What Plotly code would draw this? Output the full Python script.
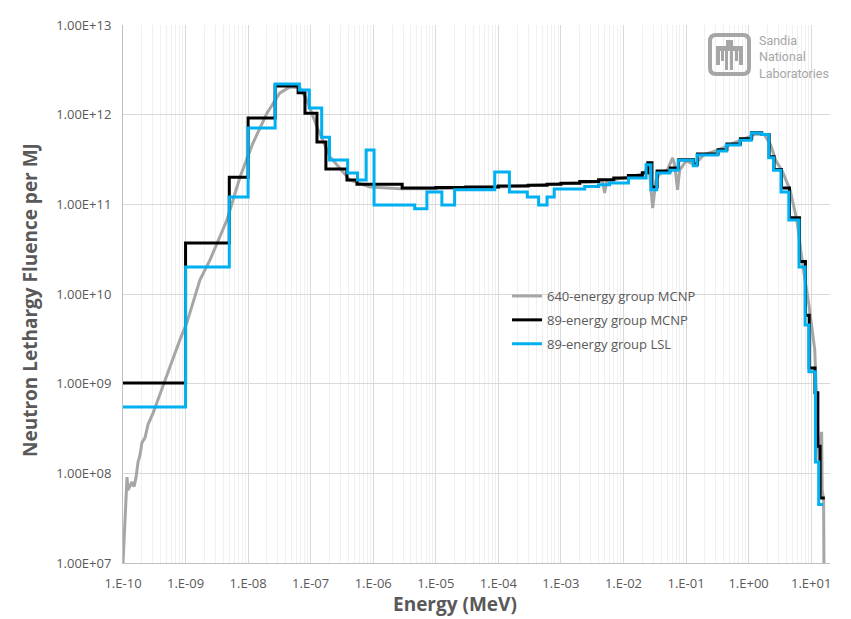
import plotly.graph_objects as go

# ---------------- data ----------------
# 640-energy group MCNP (gray curve): energy (MeV) and lethargy fluence per MJ
gray_E = [1.0e-10, 1.04e-10, 1.08e-10, 1.16e-10, 1.20e-10, 1.29e-10, 1.39e-10, 1.50e-10,
          1.61e-10, 1.74e-10, 1.87e-10, 2.01e-10, 2.25e-10, 2.51e-10, 3.02e-10, 3.62e-10,
          4.35e-10, 5.64e-10, 8.15e-10, 1.05e-9, 1.70e-9, 2.46e-9, 4.59e-9, 7.4e-9,
          1.19e-8, 2.0e-8, 3.22e-8, 4.66e-8, 6.72e-8, 8.7e-8, 1.26e-7, 2.03e-7, 4.23e-7,
          8.8e-7, 2.66e-6, 1.0e-5, 1.0e-4, 1.0e-3, 3.5e-3, 4.6e-3, 5.0e-3, 5.4e-3, 1.0e-2,
          2.18e-2, 2.45e-2, 2.6e-2, 2.93e-2, 3.3e-2, 3.8e-2, 5.0e-2, 6.1e-2, 6.6e-2, 7.3e-2,
          7.9e-2, 1.0e-1, 1.38e-1, 1.9e-1, 3.3e-1, 5.7e-1, 1.0, 1.33, 1.78, 2.25, 2.7, 3.5,
          4.6, 5.9, 7.2, 9.2, 11.4, 12.6, 13.3, 14.7, 15.0, 15.8, 16.0]
gray_F = [1.0e7, 1.8e7, 3.0e7, 9.1e7, 6.5e7, 7.1e7, 8.0e7, 7.1e7,
          8.9e7, 1.34e8, 1.6e8, 2.2e8, 2.5e8, 3.5e8, 4.7e8, 6.6e8,
          9.2e8, 1.54e9, 3.1e9, 4.8e9, 1.44e10, 2.4e10, 6.7e10, 2.0e11,
          4.8e11, 1.04e12, 1.75e12, 2.04e12, 2.0e12, 1.46e12, 7.3e11, 3.4e11, 1.87e11,
          1.56e11, 1.49e11, 1.49e11, 1.56e11, 1.69e11, 1.78e11, 1.82e11, 1.34e11, 1.82e11, 1.98e11,
          2.2e11, 2.76e11, 2.3e11, 9.1e10, 1.87e11, 2.2e11, 2.4e11, 3.3e11, 2.76e11, 1.45e11,
          2.4e11, 3.05e11, 2.76e11, 3.56e11, 4.05e11, 4.83e11, 5.6e11, 6.1e11, 6.0e11, 4.6e11, 3.1e11, 2.3e11,
          1.45e11, 6.7e10, 2.3e10, 7.6e9, 2.4e9, 3.1e8, 1.4e8, 2.9e8, 6.5e7, 5.1e7, 1.0e7]

# 89-energy group MCNP (black steps): bin edges (MeV) and bin values
black_edges = [1e-10, 1e-9, 5e-9, 1e-8, 2.7e-8, 6.3e-8, 8.1e-8, 1.26e-7, 1.75e-7, 3.8e-7,
               5.5e-7, 2.9e-6, 1e-5, 3e-5, 1e-4, 3e-4, 6e-4, 1e-3, 2e-3, 4e-3, 7e-3, 1.2e-2,
               2.0e-2, 2.45e-2, 2.85e-2, 3.45e-2, 5.6e-2, 7.6e-2, 1.32e-1, 1.52e-1, 3.25e-1,
               4.5e-1, 7.4e-1, 1.12, 1.62, 2.13, 2.55, 3.35, 4.5, 6.5, 8.1, 9.3, 11.5, 12.8,
               13.9, 16.5]
black_vals = [1.02e9, 3.7e10, 2.0e11, 9.2e11, 2.09e12, 1.75e12, 1.04e12, 4.97e11, 2.48e11,
              1.87e11, 1.68e11, 1.52e11, 1.54e11, 1.56e11, 1.60e11, 1.63e11, 1.67e11, 1.72e11,
              1.80e11, 1.88e11, 1.97e11, 2.1e11, 2.25e11, 2.9e11, 1.56e11, 2.35e11, 2.55e11,
              3.15e11, 2.8e11, 3.65e11, 4.05e11, 4.7e11, 5.4e11, 6.3e11, 6.0e11, 3.4e11,
              2.45e11, 1.52e11, 7.1e10, 2.3e10, 5.8e9, 1.5e9, 7.9e8, 2.0e8, 5.3e7]

# 89-energy group LSL (blue steps): bin edges (MeV) and bin values
blue_edges = [1e-10, 1e-9, 5e-9, 1e-8, 2.7e-8, 6.6e-8, 9.5e-8, 1.5e-7, 2.0e-7, 3.9e-7,
              5.6e-7, 7.7e-7, 1.03e-6, 4.6e-6, 7.2e-6, 1.25e-5, 2.0e-5, 8.75e-5, 1.5e-4,
              2.9e-4, 4.4e-4, 6.0e-4, 7.8e-4, 2.4e-3, 4e-3, 6e-3, 1.2e-2, 2.3e-2, 2.75e-2,
              3.4e-2, 5.5e-2, 7.5e-2, 1.3e-1, 1.5e-1, 3.2e-1, 4.4e-1, 7.3e-1, 1.1, 1.6, 2.1,
              2.5, 3.3, 4.4, 6.4, 8.0, 9.2, 11.7, 13.2, 15.5]
blue_vals = [5.5e8, 2.0e10, 1.21e11, 7.1e11, 2.2e12, 1.88e12, 1.19e12, 5.6e11, 3.13e11,
             2.24e11, 1.87e11, 4.04e11, 9.85e10, 8.9e10, 1.37e11, 9.85e10, 1.45e11, 2.3e11,
             1.37e11, 1.21e11, 9.85e10, 1.21e11, 1.48e11, 1.58e11, 1.65e11, 1.73e11, 1.97e11,
             2.76e11, 1.45e11, 2.24e11, 2.4e11, 3.1e11, 2.7e11, 3.56e11, 3.94e11, 4.6e11,
             5.2e11, 6.25e11, 6.0e11, 3.3e11, 2.4e11, 1.37e11, 6.7e10, 2.0e10, 4.5e9, 1.36e9,
             1.34e8, 4.5e7]

y_tickvals = [1e7, 1e8, 1e9, 1e10, 1e11, 1e12, 1e13]
y_ticktext = ["1.00E+07", "1.00E+08", "1.00E+09", "1.00E+10", "1.00E+11", "1.00E+12", "1.00E+13"]
x_tickvals = [1e-10, 1e-9, 1e-8, 1e-7, 1e-6, 1e-5, 1e-4, 1e-3, 1e-2, 1e-1, 1e0, 1e1]
x_ticktext = ["1.E-10", "1.E-09", "1.E-08", "1.E-07", "1.E-06", "1.E-05", "1.E-04",
              "1.E-03", "1.E-02", "1.E-01", "1.E+00", "1.E+01"]

# ---------------- figure ----------------
OFF = 8                      # page body margin of the written html
W, H = 851 - OFF, 619 - OFF
ML, MR, MT, MB = 123 - OFF, 21, 25 - OFF, 56
TXT = "#595959"
FONT = "Open Sans"

fig = go.Figure()
fig.add_trace(go.Scatter(x=gray_E, y=gray_F, mode="lines", name="640-energy group MCNP",
                         line=dict(color="#a6a6a6", width=3), legendgroup="a"))
fig.add_trace(go.Scatter(x=black_edges, y=black_vals + [black_vals[-1]], mode="lines",
                         line_shape="hv", name="89-energy group MCNP",
                         line=dict(color="#000000", width=3), legendgroup="b"))
fig.add_trace(go.Scatter(x=blue_edges, y=blue_vals + [blue_vals[-1]], mode="lines",
                         line_shape="hv", name="89-energy group LSL",
                         line=dict(color="#00b0f0", width=3), legendgroup="c"))

fig.update_xaxes(type="log", range=[-10, 1.301], tickvals=x_tickvals, ticktext=x_ticktext,
                 automargin=False,
                 showgrid=True, gridcolor="#d9d9d9", gridwidth=1,
                 minor=dict(dtick="D1", showgrid=True, gridcolor="#f0f0f0", ticks=""),
                 showline=True, linecolor="#bfbfbf", linewidth=1, zeroline=False,
                 ticks="", ticklabelstandoff=8,
                 tickfont=dict(family=FONT, size=13, color=TXT))
fig.update_yaxes(type="log", range=[7, 13], tickvals=y_tickvals, ticktext=y_ticktext,
                 automargin=False,
                 showgrid=True, gridcolor="#d9d9d9", gridwidth=1,
                 showline=True, linecolor="#bfbfbf", linewidth=1, zeroline=False,
                 ticks="", ticklabelstandoff=8,
                 tickfont=dict(family=FONT, size=13, color=TXT))

# ---- helpers for placing decoration at page pixels ----
def px(x):
    return (x - OFF - ML) / (W - ML - MR)

def py(y):
    return (OFF + H - MB - y) / (H - MT - MB)

annotations = [
    dict(text="<b>Energy (MeV)</b>", xref="paper", yref="paper", x=px(455), y=py(604),
         xanchor="center", yanchor="middle", showarrow=False,
         font=dict(family=FONT, size=19, color=TXT)),
    dict(text="<b>Neutron Lethargy Fluence per MJ</b>", xref="paper", yref="paper",
         x=px(30), y=py(300), xanchor="center", yanchor="middle", textangle=-90,
         showarrow=False, font=dict(family=FONT, size=19, color=TXT)),
]

# ---- Sandia logo (decoration) ----
LOGO = "#a6a6a6"
shapes = []
x0, y0, x1, y1 = 710, 35, 749, 74
r = 6
path = (f"M {px(x0+r)},{py(y0)} L {px(x1-r)},{py(y0)} Q {px(x1)},{py(y0)} {px(x1)},{py(y0+r)} "
        f"L {px(x1)},{py(y1-r)} Q {px(x1)},{py(y1)} {px(x1-r)},{py(y1)} "
        f"L {px(x0+r)},{py(y1)} Q {px(x0)},{py(y1)} {px(x0)},{py(y1-r)} "
        f"L {px(x0)},{py(y0+r)} Q {px(x0)},{py(y0)} {px(x0+r)},{py(y0)} Z")
shapes.append(dict(type="path", xref="paper", yref="paper", path=path,
                   line=dict(color=LOGO, width=4), fillcolor="rgba(0,0,0,0)"))
bird = [(726, 40, 733, 46), (716, 46, 743, 51), (716, 51, 720, 65), (721, 51, 724, 61),
        (739, 51, 743, 65), (735, 51, 738, 61), (725, 51, 728, 70), (730, 51, 733, 70)]
for (a, b, c, d) in bird:
    shapes.append(dict(type="rect", xref="paper", yref="paper", x0=px(a), x1=px(c),
                       y0=py(d), y1=py(b), line=dict(width=0), fillcolor=LOGO))

annotations.append(dict(text="Sandia<br>National<br>Laboratories", xref="paper", yref="paper",
                        x=px(757), y=py(31), xanchor="left", yanchor="top", showarrow=False,
                        align="left",
                        font=dict(family="Liberation Sans Narrow, Roboto, sans-serif", size=12.5,
                                  color=LOGO)))

fig.update_layout(
    width=W, height=H,
    margin=dict(l=ML, r=MR, t=MT, b=MB, autoexpand=False),
    paper_bgcolor="white", plot_bgcolor="white",
    showlegend=True,
    legend=dict(x=px(507), y=py(281), xanchor="left", yanchor="top",
                bgcolor="rgba(0,0,0,0)", traceorder="grouped", tracegroupgap=4,
                itemwidth=30,
                font=dict(family=FONT, size=13, color=TXT)),
    shapes=shapes, annotations=annotations,
)

fig.write_html("out.html")
